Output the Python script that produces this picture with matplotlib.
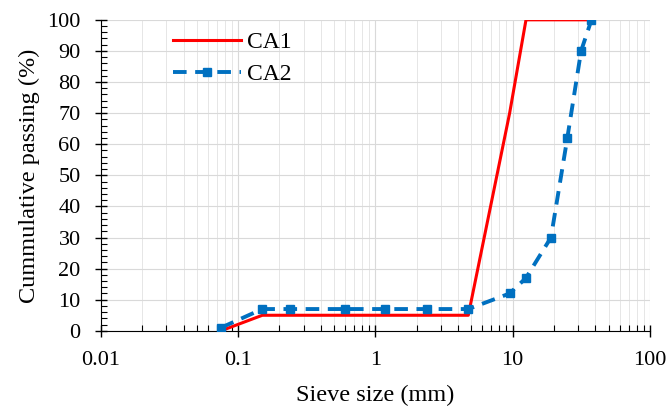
import numpy as np
import matplotlib.pyplot as plt
from matplotlib.ticker import LogLocator, MultipleLocator

# sieve sizes (mm) and cumulative passing (%)
ca1_size = [0.075, 0.15, 4.75, 9.5, 12.5, 37.5]
ca1_pass = [0, 5, 5, 70, 100, 100]

ca2_size = [0.075, 0.15, 0.24, 0.6, 1.18, 2.36, 4.75, 9.5, 12.5, 19, 25, 31.5, 37.5]
ca2_pass = [1, 7, 7, 7, 7, 7, 7, 12, 17, 30, 62, 90, 100]

xticks = [0.01, 0.1, 1, 10, 100]
xticklabels = ['0.01', '0.1', '1', '10', '100']

plt.rcParams['font.family'] = ['Liberation Serif', 'DejaVu Serif']

fig = plt.figure(figsize=(6.68, 4.13), dpi=100)
ax = fig.add_axes([0.151, 0.199, 0.822, 0.753])

ax.plot(ca1_size, ca1_pass, color='#FF0000', lw=2.2, label='CA1', zorder=3)
ax.plot(ca2_size, ca2_pass, color='#0070C0', lw=2.8, ls=(0, (3.5, 2.2)),
        marker='s', ms=6, label='CA2', zorder=4)

ax.set_xscale('log')
ax.set_xlim(0.01, 100)
ax.set_ylim(0, 100)
ax.set_xticks(xticks)
ax.set_xticklabels(xticklabels)
ax.xaxis.set_minor_locator(LogLocator(base=10, subs=np.arange(2, 10)))
ax.xaxis.set_minor_formatter(plt.NullFormatter())
ax.yaxis.set_major_locator(MultipleLocator(10))
ax.yaxis.set_minor_locator(MultipleLocator(2))

ax.grid(which='major', color='#D9D9D9', lw=0.8)
ax.grid(which='minor', axis='x', color='#E6E6E6', lw=0.7)
ax.set_axisbelow(True)

for s in ['top', 'right']:
    ax.spines[s].set_visible(False)
ax.tick_params(which='major', direction='inout', length=9, width=1, labelsize=16, pad=10)
ax.tick_params(which='minor', direction='in', length=4, width=0.8)

ax.set_xlabel('Sieve size (mm)', fontsize=17.5, labelpad=11)
ax.set_ylabel('Cummulative passing (%)', fontsize=17.5, labelpad=5)

ax.legend(loc='upper left', bbox_to_anchor=(0.092, 1.03), frameon=False,
          fontsize=17, handlelength=2.9, handletextpad=0.25, labelspacing=0.45)

fig.savefig('out.png', dpi=100)
